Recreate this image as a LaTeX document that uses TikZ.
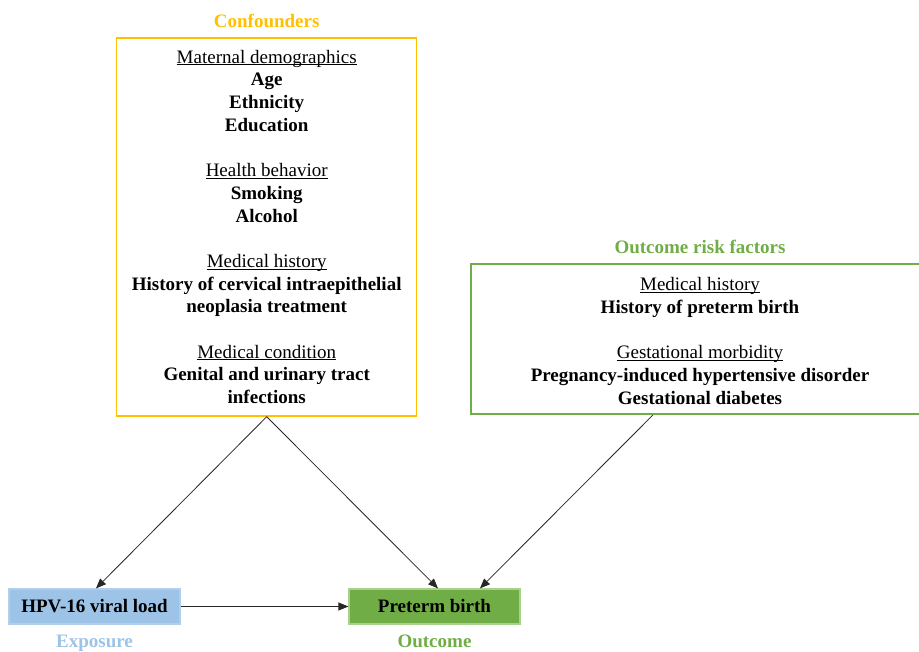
\documentclass[tikz,border=0pt]{standalone}
\usepackage{fontspec}
\setmainfont{Liberation Serif}
\usetikzlibrary{arrows.meta,calc}
\definecolor{cyellow}{HTML}{FFC000}
\definecolor{cgreen}{HTML}{70AD47}
\definecolor{cgreenl}{HTML}{A9D18E}
\definecolor{cblue}{HTML}{9DC3E6}
\newcommand\myul[1]{\setbox0\hbox{#1}\rlap{\rule[-2pt]{\wd0}{0.9pt}}\box0}
\begin{document}
\begin{tikzpicture}[x=1pt,y=-1pt,
  every node/.style={font=\fontsize{19}{22.7}\selectfont, inner sep=0pt},
  line/.style={anchor=base, yshift=-1.2pt},
  head/.style={anchor=base, yshift=-1.2pt, font=\fontsize{19}{22.7}\selectfont\bfseries},
  bold/.style={anchor=base, yshift=-1.2pt, font=\fontsize{19}{22.7}\selectfont\bfseries},
  role/.style={anchor=base, font=\fontsize{19}{22.7}\selectfont\bfseries},
  frame/.style={draw, line width=1.4pt, rectangle},
  varbox/.style={rectangle, line width=1.2pt, minimum height=35pt, text height=12.9pt, text depth=0pt, font=\fontsize{19}{22.7}\selectfont\bfseries},
  conn/.style={draw=black!85, line width=0.8pt, -{Triangle[length=10pt,width=8pt]}}
]
\clip (0,0) rectangle (919,652);

% Confounders box
\node[frame, draw=cyellow, minimum width=300pt, minimum height=378pt] (conf) at (266.7,227) {};
\node[head, text=cyellow] (conft) at (266.7,26) {Confounders};
\node[line] (c1) at (266.7,62) {\myul{Maternal demographics}};
\node[bold] (c2) at (266.7,84.7) {Age};
\node[bold] (c3) at (266.7,107.4) {Ethnicity};
\node[bold] (c4) at (266.7,130.1) {Education};
\node[line] (c5) at (266.7,175.5) {\myul{Health behavior}};
\node[bold] (c6) at (266.7,198.2) {Smoking};
\node[bold] (c7) at (266.7,220.9) {Alcohol};
\node[line] (c8) at (266.7,266.3) {\myul{Medical history}};
\node[bold] (c9) at (266.7,289) {History of cervical intraepithelial};
\node[bold] (c10) at (266.7,311.7) {neoplasia treatment};
\node[line] (c11) at (266.7,357.1) {\myul{Medical condition}};
\node[bold] (c12) at (266.7,379.8) {Genital and urinary tract};
\node[bold] (c13) at (266.7,402.5) {infections};

% Outcome risk factors box
\node[frame, draw=cgreen, minimum width=458pt, minimum height=150pt] (orf) at (700,339.2) {};
\node[head, text=cgreen] (orft) at (700,252.7) {Outcome risk factors};
\node[line] (o1) at (700,289.5) {\myul{Medical history}};
\node[bold] (o2) at (700,312.2) {History of preterm birth};
\node[line] (o3) at (700,357.6) {\myul{Gestational morbidity}};
\node[bold] (o4) at (700,380.3) {Pregnancy-induced hypertensive disorder};
\node[bold] (o5) at (700,403) {Gestational diabetes};

% Exposure and outcome
\node[varbox, fill=cblue, draw=cblue!80!white, minimum width=171pt] (hpv) at (94.5,606.5) {HPV-16 viral load};
\node[varbox, fill=cgreen, draw=cgreenl, minimum width=171pt] (pb) at (434.5,606.5) {Preterm birth};
\node[role, text=cblue] (expl) at (94.5,647.5) {Exposure};
\node[role, text=cgreen] (outl) at (434.5,647.5) {Outcome};

% Connectors
\coordinate (orfs) at ($(orf.south)+(-47,0)$);
\draw[conn] (conf.south) -- ($(hpv.north)+(1.5,0)$);
\draw[conn] (conf.south) -- ($(pb.north)+(3.5,0)$);
\draw[conn] (orfs) -- ($(pb.north)+(45.5,0)$);
\draw[conn] (hpv.east) -- (pb.west);
\end{tikzpicture}
\end{document}
